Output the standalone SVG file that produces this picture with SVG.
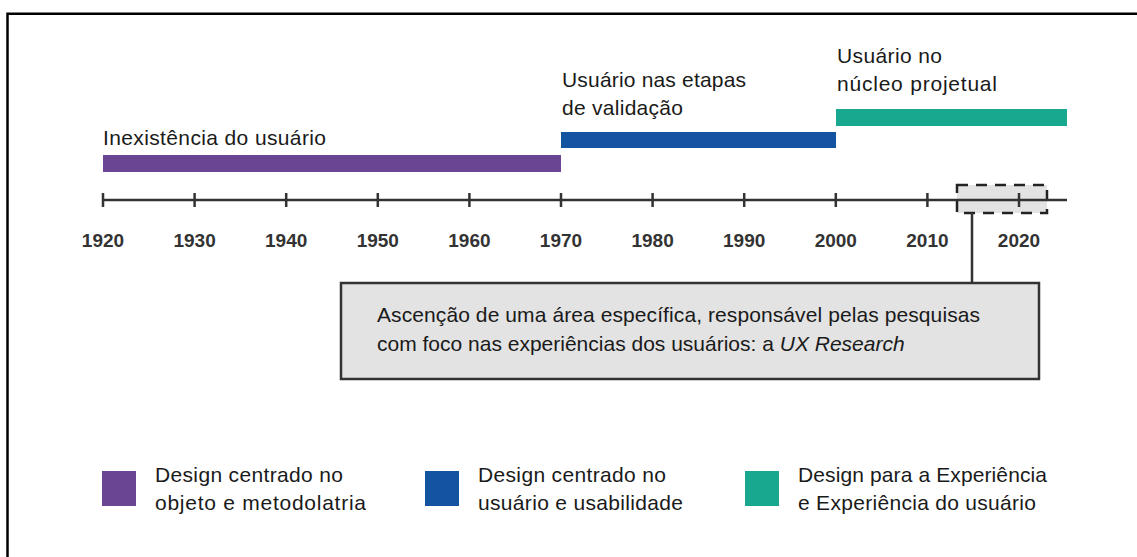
<svg xmlns="http://www.w3.org/2000/svg" width="1137" height="557" viewBox="0 0 1137 557">
<style>
.t{font-family:"Liberation Sans",Arial,sans-serif;font-size:21px;fill:#1a1a1a}
.y{font-family:"Liberation Sans",Arial,sans-serif;font-size:19px;font-weight:bold;fill:#333;text-anchor:middle}
.ax{stroke:#333;stroke-width:2.5;fill:none}
</style>
<rect width="1137" height="557" fill="#fff"/>
<path d="M7.5 557 V13.8 H1137" stroke="#000" stroke-width="2.5" fill="none"/>
<g id="bars">
<rect x="103" y="155" width="458" height="17" fill="#6A4594"/>
<rect x="561" y="132" width="275" height="16" fill="#1453A0"/>
<rect x="836" y="109" width="231" height="17" fill="#17A88F"/>
</g>
<g id="labels">
<text class="t" x="103" y="145" textLength="223">Inexistência do usuário</text>
<text class="t" x="562" y="87" textLength="184">Usuário nas etapas</text>
<text class="t" x="562" y="115" textLength="121">de validação</text>
<text class="t" x="837" y="63" textLength="105">Usuário no</text>
<text class="t" x="837" y="91" textLength="160">núcleo projetual</text>
</g>
<g id="highlight">
<rect x="957" y="185" width="90" height="28" fill="#E3E3E3" stroke="#222" stroke-width="2.5" stroke-dasharray="11 8"/>
</g>
<g id="axis">
<line class="ax" x1="103" y1="200" x2="1067" y2="200"/>
<path class="ax" d="M103 193v14M194.6 193v14M286.2 193v14M377.8 193v14M469.4 193v14M561 193v14M652.6 193v14M744.2 193v14M835.8 193v14M927.4 193v14M1019 193v14"/>
<text class="y" x="103" y="247">1920</text>
<text class="y" x="194.6" y="247">1930</text>
<text class="y" x="286.2" y="247">1940</text>
<text class="y" x="377.8" y="247">1950</text>
<text class="y" x="469.4" y="247">1960</text>
<text class="y" x="561" y="247">1970</text>
<text class="y" x="652.6" y="247">1980</text>
<text class="y" x="744.2" y="247">1990</text>
<text class="y" x="835.8" y="247">2000</text>
<text class="y" x="927.4" y="247">2010</text>
<text class="y" x="1019" y="247">2020</text>
</g>
<g id="connectors">
<line x1="972" y1="213" x2="972" y2="283" stroke="#333" stroke-width="2.5"/>
</g>
<g id="note">
<rect x="341" y="283" width="698" height="96" fill="#E3E3E3" stroke="#333" stroke-width="2.5"/>
<text class="t" x="377" y="322" textLength="603">Ascenção de uma área específica, responsável pelas pesquisas</text>
<text class="t" x="377" y="351">com foco nas experiências dos usuários: a <tspan font-style="italic">UX Research</tspan></text>
</g>
<g id="legend1">
<rect x="102" y="471" width="34" height="35" fill="#6A4594"/>
<text class="t" x="155" y="482" textLength="188">Design centrado no</text>
<text class="t" x="155" y="510" textLength="211">objeto e metodolatria</text>
</g>
<g id="legend2">
<rect x="425" y="471" width="34" height="35" fill="#1453A0"/>
<text class="t" x="478" y="482" textLength="188">Design centrado no</text>
<text class="t" x="478" y="510" textLength="205">usuário e usabilidade</text>
</g>
<g id="legend3">
<rect x="745" y="471" width="34" height="35" fill="#17A88F"/>
<text class="t" x="798" y="482" textLength="249">Design para a Experiência</text>
<text class="t" x="798" y="510" textLength="238">e Experiência do usuário</text>
</g>
</svg>
